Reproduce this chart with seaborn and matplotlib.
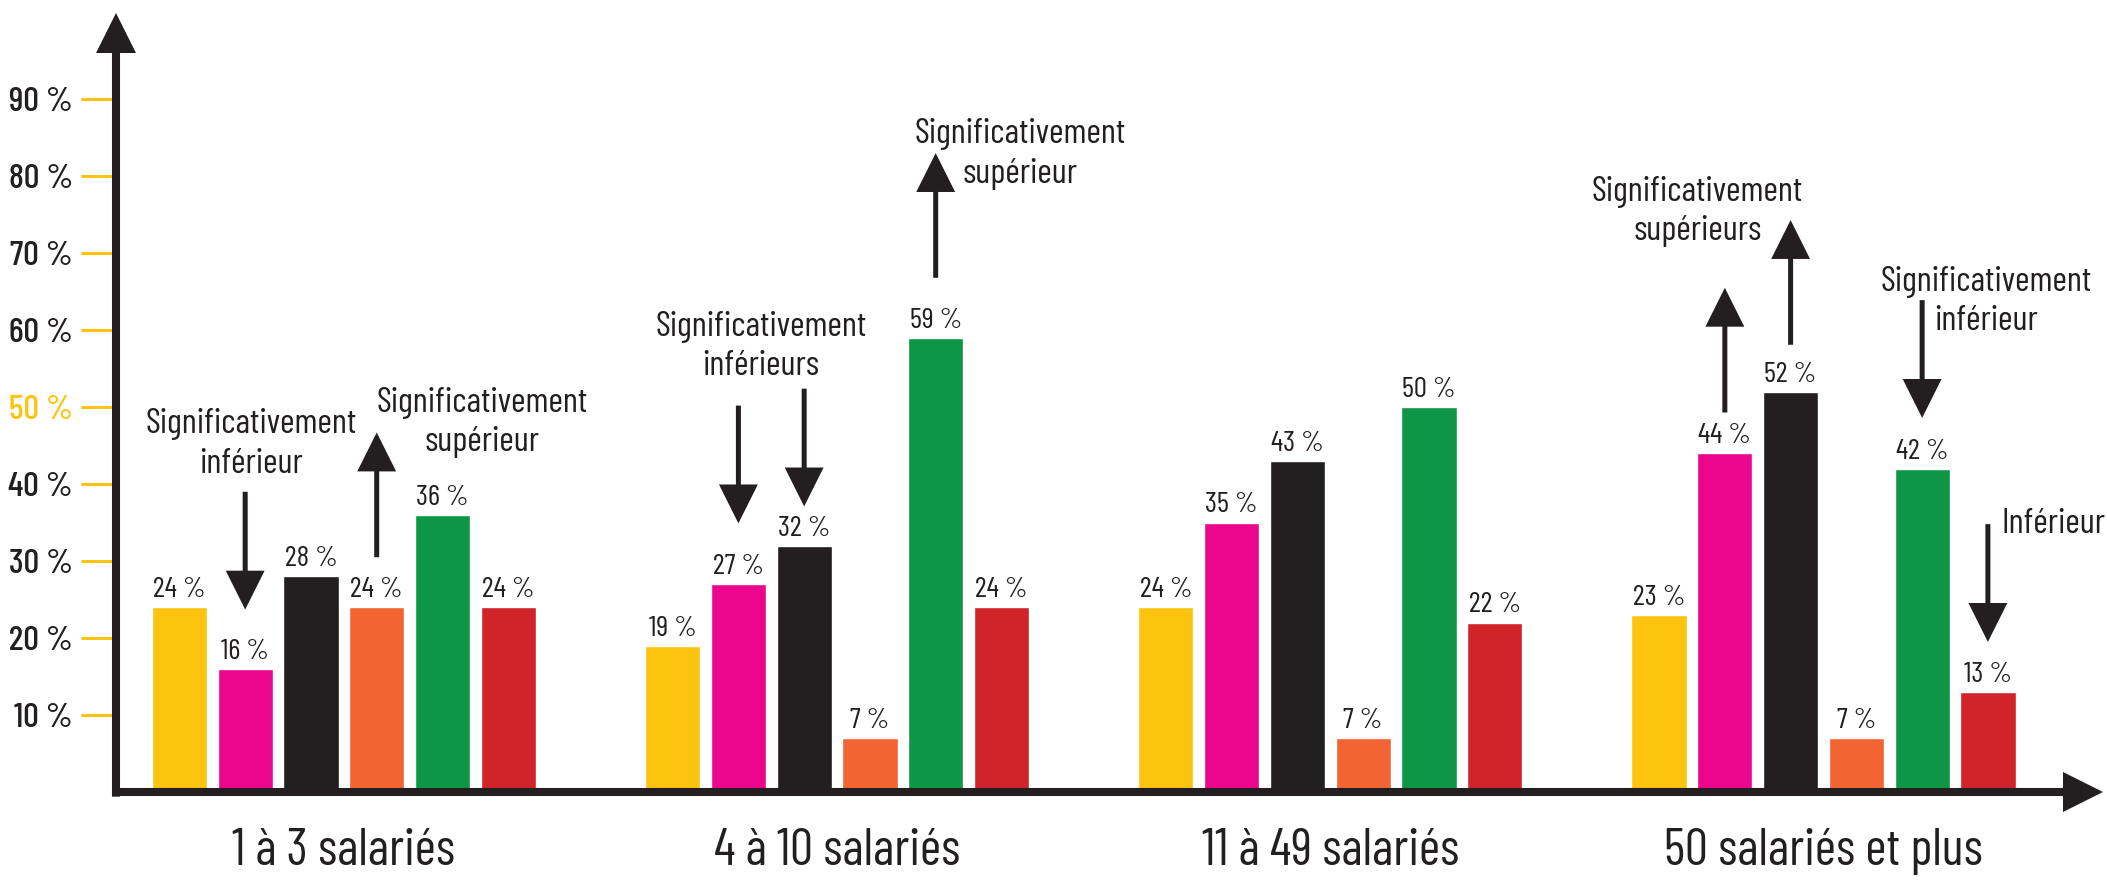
import numpy as np
import pandas as pd
import matplotlib.pyplot as plt
import seaborn as sns
from matplotlib import font_manager

# ---------------------------------------------------------------
# Data
# ---------------------------------------------------------------
groups = ["1 à 3 salariés", "4 à 10 salariés", "11 à 49 salariés", "50 salariés et plus"]
series = ["série 1", "série 2", "série 3", "série 4", "série 5", "série 6"]

serie_1 = [24, 19, 24, 23]   # jaune
serie_2 = [16, 27, 35, 44]   # rose
serie_3 = [28, 32, 43, 52]   # noir
serie_4 = [24, 7, 7, 7]      # orange
serie_5 = [36, 59, 50, 42]   # vert
serie_6 = [24, 24, 22, 13]   # rouge

yticks = [10, 20, 30, 40, 50, 60, 70, 80, 90]

# annotation arrows: (group index, series index, direction, gap above bar)
arrows = [
    (0, 1, "down", 7.7),
    (0, 3, "up", 6.5),
    (1, 1, "down", 7.9),
    (1, 2, "down", 5.1),
    (1, 4, "up", 7.8),
    (3, 1, "up", 5.3),
    (3, 2, "up", 6.1),
    (3, 4, "down", 6.6),
    (3, 5, "down", 6.5),
]

# annotation texts: (x, y, text)
notes = [
    (-0.188, 45.2, "Significativement\ninférieur"),
    (0.280, 48.0, "Significativement\nsupérieur"),
    (0.846, 57.9, "Significativement\ninférieurs"),
    (1.371, 82.9, "Significativement\nsupérieur"),
    (2.744, 75.4, "Significativement\nsupérieurs"),
    (3.330, 63.7, "Significativement\ninférieur"),
    (3.466, 34.8, "Inférieur"),
]

palette = ["#FCC40F", "#EC068D", "#231F20", "#F26533", "#0E9646", "#D1232A"]
INK = "#231F20"
YELLOW = "#FCC30F"

df = pd.DataFrame({
    "groupe": groups * 6,
    "serie": np.repeat(series, len(groups)),
    "valeur": serie_1 + serie_2 + serie_3 + serie_4 + serie_5 + serie_6,
})

# condensed DIN-like face, first one that is installed
installed = {f.name for f in font_manager.fontManager.ttflist}
candidates = ["Barlow Condensed", "Roboto Condensed", "IBM Plex Sans Condensed",
              "Open Sans Condensed", "DejaVu Sans"]
FONT = next(c for c in candidates if c in installed)

# ---------------------------------------------------------------
# Figure
# ---------------------------------------------------------------
sns.set_style("white")
plt.rcParams["font.family"] = [FONT, "DejaVu Sans"]

fig = plt.figure(figsize=(21.07, 8.81), dpi=100)
ax = fig.add_axes([116 / 2107, 89 / 881, 1987 / 2107, 779 / 881])

sns.barplot(data=df, x="groupe", y="valeur", hue="serie", palette=palette,
            width=0.8, gap=0.16, saturation=1, legend=False, ax=ax)

ax.set_xlim(-0.4619, 3.5667)
ax.set_ylim(0, 101.2)
for s in ax.spines.values():
    s.set_visible(False)
ax.set_xlabel("")
ax.set_ylabel("")

ax.set_yticks(yticks)
ax.set_yticklabels([f"{t} %" for t in yticks])
ax.tick_params(axis="y", left=True, length=25, width=2.2, color=YELLOW, pad=6,
               labelsize=25, labelcolor=INK)
for lab in ax.get_yticklabels():
    lab.set_fontweight(500)
ax.get_yticklabels()[yticks.index(50)].set_color(YELLOW)
ax.tick_params(axis="x", bottom=False, length=0, pad=26, labelsize=37, labelcolor=INK)

# value labels on bars
for cont in ax.containers:
    ax.bar_label(cont, labels=[f"{b.get_height():.0f} %" for b in cont],
                 padding=3, fontsize=21, color=INK)

# axis lines with arrow heads
axis_style = "simple,head_length=28.8,head_width=28.8,tail_width=5.8"
ax.annotate("", xy=(0, 1), xytext=(0, -0.006), xycoords="axes fraction",
            arrowprops=dict(arrowstyle=axis_style, fc=INK, ec="none", lw=0,
                            shrinkA=0, shrinkB=0, mutation_scale=1),
            annotation_clip=False, zorder=5)
ax.annotate("", xy=(1, 0), xytext=(-0.002, 0), xycoords="axes fraction",
            arrowprops=dict(arrowstyle=axis_style, fc=INK, ec="none", lw=0,
                            shrinkA=0, shrinkB=0, mutation_scale=1),
            annotation_clip=False, zorder=5)

# significance arrows
note_style = "simple,head_length=28,head_width=28,tail_width=3.6"
for g, k, direction, gap in arrows:
    bar = ax.containers[k][g]
    x = bar.get_x() + bar.get_width() / 2
    top = bar.get_height()
    if direction == "up":
        start, end = top + gap, top + gap + 16.2
    else:
        start, end = top + gap + 15.3, top + gap
    ax.annotate("", xy=(x, end), xytext=(x, start),
                arrowprops=dict(arrowstyle=note_style, fc=INK, ec="none", lw=0,
                                shrinkA=0, shrinkB=0, mutation_scale=1),
                annotation_clip=False)

for x, y, txt in notes:
    ax.text(x, y, txt, ha="center", va="center", fontsize=25.5,
            linespacing=1.3, color=INK)

plt.savefig("out.png", dpi=100)
